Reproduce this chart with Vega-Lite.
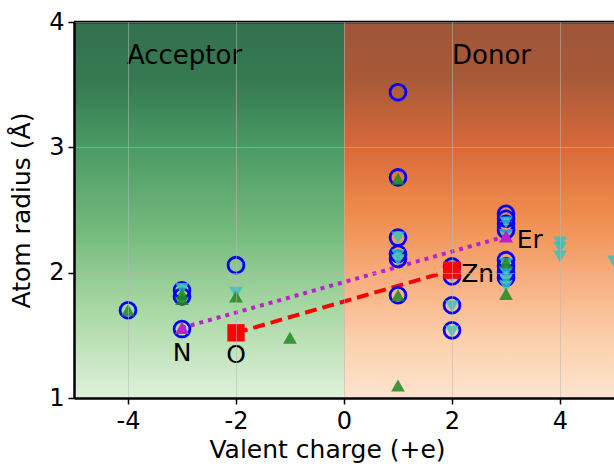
{
  "$schema": "https://vega.github.io/schema/vega-lite/v6.json",
  "width": 540,
  "height": 376,
  "autosize": {"type": "none"},
  "padding": {"left": 74, "top": 22, "right": 0, "bottom": 68},
  "background": "white",
  "config": {
    "view": {"stroke": null},
    "font": "DejaVu Sans",
    "axis": {
      "labelFont": "DejaVu Sans",
      "titleFont": "DejaVu Sans",
      "labelFontSize": 24,
      "titleFontSize": 25,
      "labelColor": "black",
      "titleColor": "black",
      "titleFontWeight": "normal",
      "domainColor": "black",
      "domainWidth": 2.5,
      "tickColor": "black",
      "tickWidth": 1.5,
      "tickSize": 6,
      "gridColor": "#b8b8b8",
      "gridOpacity": 0.55,
      "gridWidth": 1,
      "labelExpr": "'' + datum.value"
    }
  },
  "datasets": {
    "pts": [
      {"kind": "circle", "q": -4, "r": 1.70},
      {"kind": "circle", "q": -3, "r": 1.86},
      {"kind": "circle", "q": -3, "r": 1.81},
      {"kind": "circle", "q": -3, "r": 1.55},
      {"kind": "circle", "q": -2, "r": 2.06},
      {"kind": "circle", "q": 1, "r": 3.44},
      {"kind": "circle", "q": 1, "r": 2.76},
      {"kind": "circle", "q": 1, "r": 2.28},
      {"kind": "circle", "q": 1, "r": 2.15},
      {"kind": "circle", "q": 1, "r": 2.11},
      {"kind": "circle", "q": 1, "r": 1.82},
      {"kind": "circle", "q": 2, "r": 2.05},
      {"kind": "circle", "q": 2, "r": 1.97},
      {"kind": "circle", "q": 2, "r": 1.74},
      {"kind": "circle", "q": 2, "r": 1.54},
      {"kind": "circle", "q": 3, "r": 2.47},
      {"kind": "circle", "q": 3, "r": 2.43},
      {"kind": "circle", "q": 3, "r": 2.39},
      {"kind": "circle", "q": 3, "r": 2.34},
      {"kind": "circle", "q": 3, "r": 2.10},
      {"kind": "circle", "q": 3, "r": 2.05},
      {"kind": "circle", "q": 3, "r": 2.00},
      {"kind": "circle", "q": 3, "r": 1.96},
      {"kind": "down", "q": -3, "r": 1.87},
      {"kind": "down", "q": -2, "r": 1.84},
      {"kind": "down", "q": 1, "r": 2.28},
      {"kind": "down", "q": 1, "r": 2.14},
      {"kind": "down", "q": 1, "r": 2.10},
      {"kind": "down", "q": 2, "r": 1.97},
      {"kind": "down", "q": 2, "r": 1.73},
      {"kind": "down", "q": 2, "r": 1.53},
      {"kind": "down", "q": 3, "r": 2.40},
      {"kind": "down", "q": 3, "r": 2.30},
      {"kind": "down", "q": 3, "r": 2.07},
      {"kind": "down", "q": 3, "r": 2.00},
      {"kind": "down", "q": 3, "r": 1.94},
      {"kind": "down", "q": 3, "r": 1.89},
      {"kind": "down", "q": 4, "r": 2.24},
      {"kind": "down", "q": 4, "r": 2.20},
      {"kind": "down", "q": 4, "r": 2.13},
      {"kind": "down", "q": 5, "r": 2.09},
      {"kind": "up", "q": -4, "r": 1.70},
      {"kind": "up", "q": -3, "r": 1.83},
      {"kind": "up", "q": -3, "r": 1.79},
      {"kind": "up", "q": -2, "r": 1.81},
      {"kind": "up", "q": -1, "r": 1.48},
      {"kind": "up", "q": 1, "r": 2.75},
      {"kind": "up", "q": 1, "r": 1.82},
      {"kind": "up", "q": 1, "r": 1.10},
      {"kind": "up", "q": 3, "r": 2.08},
      {"kind": "up", "q": 3, "r": 1.83}
    ],
    "magenta": [
      {"el": "N", "q": -3, "r": 1.56},
      {"el": "Er", "q": 3, "r": 2.29}
    ],
    "red": [
      {"el": "O", "q": -2, "r": 1.52},
      {"el": "Zn", "q": 2, "r": 2.02}
    ]
  },
  "layer": [
    {
      "data": {"values": [{"q": -5, "q2": 0, "r": 1, "r2": 4}]},
      "mark": {
        "type": "rect",
        "fill": {
          "gradient": "linear", "x1": 0, "y1": 0, "x2": 0, "y2": 1,
          "stops": [
            {"offset": 0, "color": "#32714d"},
            {"offset": 0.15, "color": "#357951"},
            {"offset": 0.33, "color": "#4a9a64"},
            {"offset": 0.55, "color": "#72b97c"},
            {"offset": 0.75, "color": "#a5d6a1"},
            {"offset": 1, "color": "#def1d9"}
          ]
        }
      },
      "encoding": {
        "x": {"field": "q", "type": "quantitative", "scale": {"domain": [-5, 5], "nice": false, "zero": false},
              "axis": {"values": [-4, -2, 0, 2, 4], "title": "Valent charge (+e)", "titlePadding": 4, "titleX": 253, "labelPadding": 5, "zindex": 1, "grid": true}},
        "x2": {"field": "q2"},
        "y": {"field": "r", "type": "quantitative", "scale": {"domain": [1, 4], "nice": false, "zero": false},
              "axis": {"values": [1, 2, 3, 4], "title": "Atom radius (Å)", "titlePadding": 14, "labelPadding": 4, "zindex": 1, "grid": true}},
        "y2": {"field": "r2"}
      }
    },
    {
      "data": {"values": [{"q": 0, "q2": 5, "r": 1, "r2": 4}]},
      "mark": {
        "type": "rect",
        "fill": {
          "gradient": "linear", "x1": 0, "y1": 0, "x2": 0, "y2": 1,
          "stops": [
            {"offset": 0, "color": "#9e5539"},
            {"offset": 0.15, "color": "#a85a38"},
            {"offset": 0.33, "color": "#d8693a"},
            {"offset": 0.5, "color": "#ee8a4b"},
            {"offset": 0.7, "color": "#f8b283"},
            {"offset": 0.85, "color": "#fcd0ad"},
            {"offset": 1, "color": "#fde4ce"}
          ]
        }
      },
      "encoding": {
        "x": {"field": "q", "type": "quantitative"},
        "x2": {"field": "q2"},
        "y": {"field": "r", "type": "quantitative"},
        "y2": {"field": "r2"}
      }
    },
    {
      "data": {"values": [{"r": 4}]},
      "mark": {"type": "rule", "color": "black", "strokeWidth": 2.5},
      "encoding": {"y": {"field": "r", "type": "quantitative"}}
    },
    {
      "data": {"values": [{"t": "Acceptor", "q": -4.02, "r": 3.73}, {"t": "Donor", "q": 2.0, "r": 3.73}]},
      "mark": {"type": "text", "align": "left", "baseline": "middle", "fontSize": 26, "font": "DejaVu Sans", "color": "black"},
      "encoding": {
        "x": {"field": "q", "type": "quantitative"},
        "y": {"field": "r", "type": "quantitative"},
        "text": {"field": "t"}
      }
    },
    {
      "data": {"name": "magenta"},
      "mark": {"type": "line", "color": "#bb22cc", "strokeWidth": 4, "strokeDash": [4, 5]},
      "encoding": {
        "x": {"field": "q", "type": "quantitative"},
        "y": {"field": "r", "type": "quantitative"}
      }
    },
    {
      "data": {"name": "red"},
      "mark": {"type": "line", "color": "#ff0000", "strokeWidth": 4, "strokeDash": [12, 6]},
      "encoding": {
        "x": {"field": "q", "type": "quantitative"},
        "y": {"field": "r", "type": "quantitative"}
      }
    },
    {
      "data": {"name": "pts"},
      "transform": [{"filter": "datum.kind === 'circle'"}],
      "mark": {"type": "point", "shape": "circle", "filled": false, "stroke": "#0000ff", "strokeWidth": 2.8, "size": 250, "opacity": 1},
      "encoding": {
        "x": {"field": "q", "type": "quantitative"},
        "y": {"field": "r", "type": "quantitative"}
      }
    },
    {
      "data": {"name": "pts"},
      "transform": [{"filter": "datum.kind === 'down'"}],
      "mark": {"type": "point", "shape": "triangle-down", "filled": true, "fill": "#2ec4c0", "fillOpacity": 0.8, "strokeWidth": 0, "size": 190},
      "encoding": {
        "x": {"field": "q", "type": "quantitative"},
        "y": {"field": "r", "type": "quantitative"}
      }
    },
    {
      "data": {"name": "pts"},
      "transform": [{"filter": "datum.kind === 'up'"}],
      "mark": {"type": "point", "shape": "triangle-up", "filled": true, "fill": "#1f8a1f", "fillOpacity": 0.85, "strokeWidth": 0, "size": 190},
      "encoding": {
        "x": {"field": "q", "type": "quantitative"},
        "y": {"field": "r", "type": "quantitative"}
      }
    },
    {
      "data": {"name": "magenta"},
      "mark": {"type": "point", "shape": "triangle-up", "filled": true, "fill": "#bb22cc", "fillOpacity": 1, "strokeWidth": 0, "size": 200},
      "encoding": {
        "x": {"field": "q", "type": "quantitative"},
        "y": {"field": "r", "type": "quantitative"}
      }
    },
    {
      "data": {"name": "red"},
      "mark": {"type": "point", "shape": "square", "filled": true, "fill": "#ff0000", "fillOpacity": 1, "strokeWidth": 0, "size": 300},
      "encoding": {
        "x": {"field": "q", "type": "quantitative"},
        "y": {"field": "r", "type": "quantitative"}
      }
    },
    {
      "data": {"values": [
        {"t": "N", "q": -3, "r": 1.36},
        {"t": "O", "q": -2, "r": 1.34}
      ]},
      "mark": {"type": "text", "align": "center", "baseline": "middle", "fontSize": 25, "font": "DejaVu Sans", "color": "black"},
      "encoding": {
        "x": {"field": "q", "type": "quantitative"},
        "y": {"field": "r", "type": "quantitative"},
        "text": {"field": "t"}
      }
    },
    {
      "data": {"values": [
        {"t": "Zn", "q": 2.17, "r": 1.99},
        {"t": "Er", "q": 3.2, "r": 2.26}
      ]},
      "mark": {"type": "text", "align": "left", "baseline": "middle", "fontSize": 25, "font": "DejaVu Sans", "color": "black"},
      "encoding": {
        "x": {"field": "q", "type": "quantitative"},
        "y": {"field": "r", "type": "quantitative"},
        "text": {"field": "t"}
      }
    }
  ]
}
